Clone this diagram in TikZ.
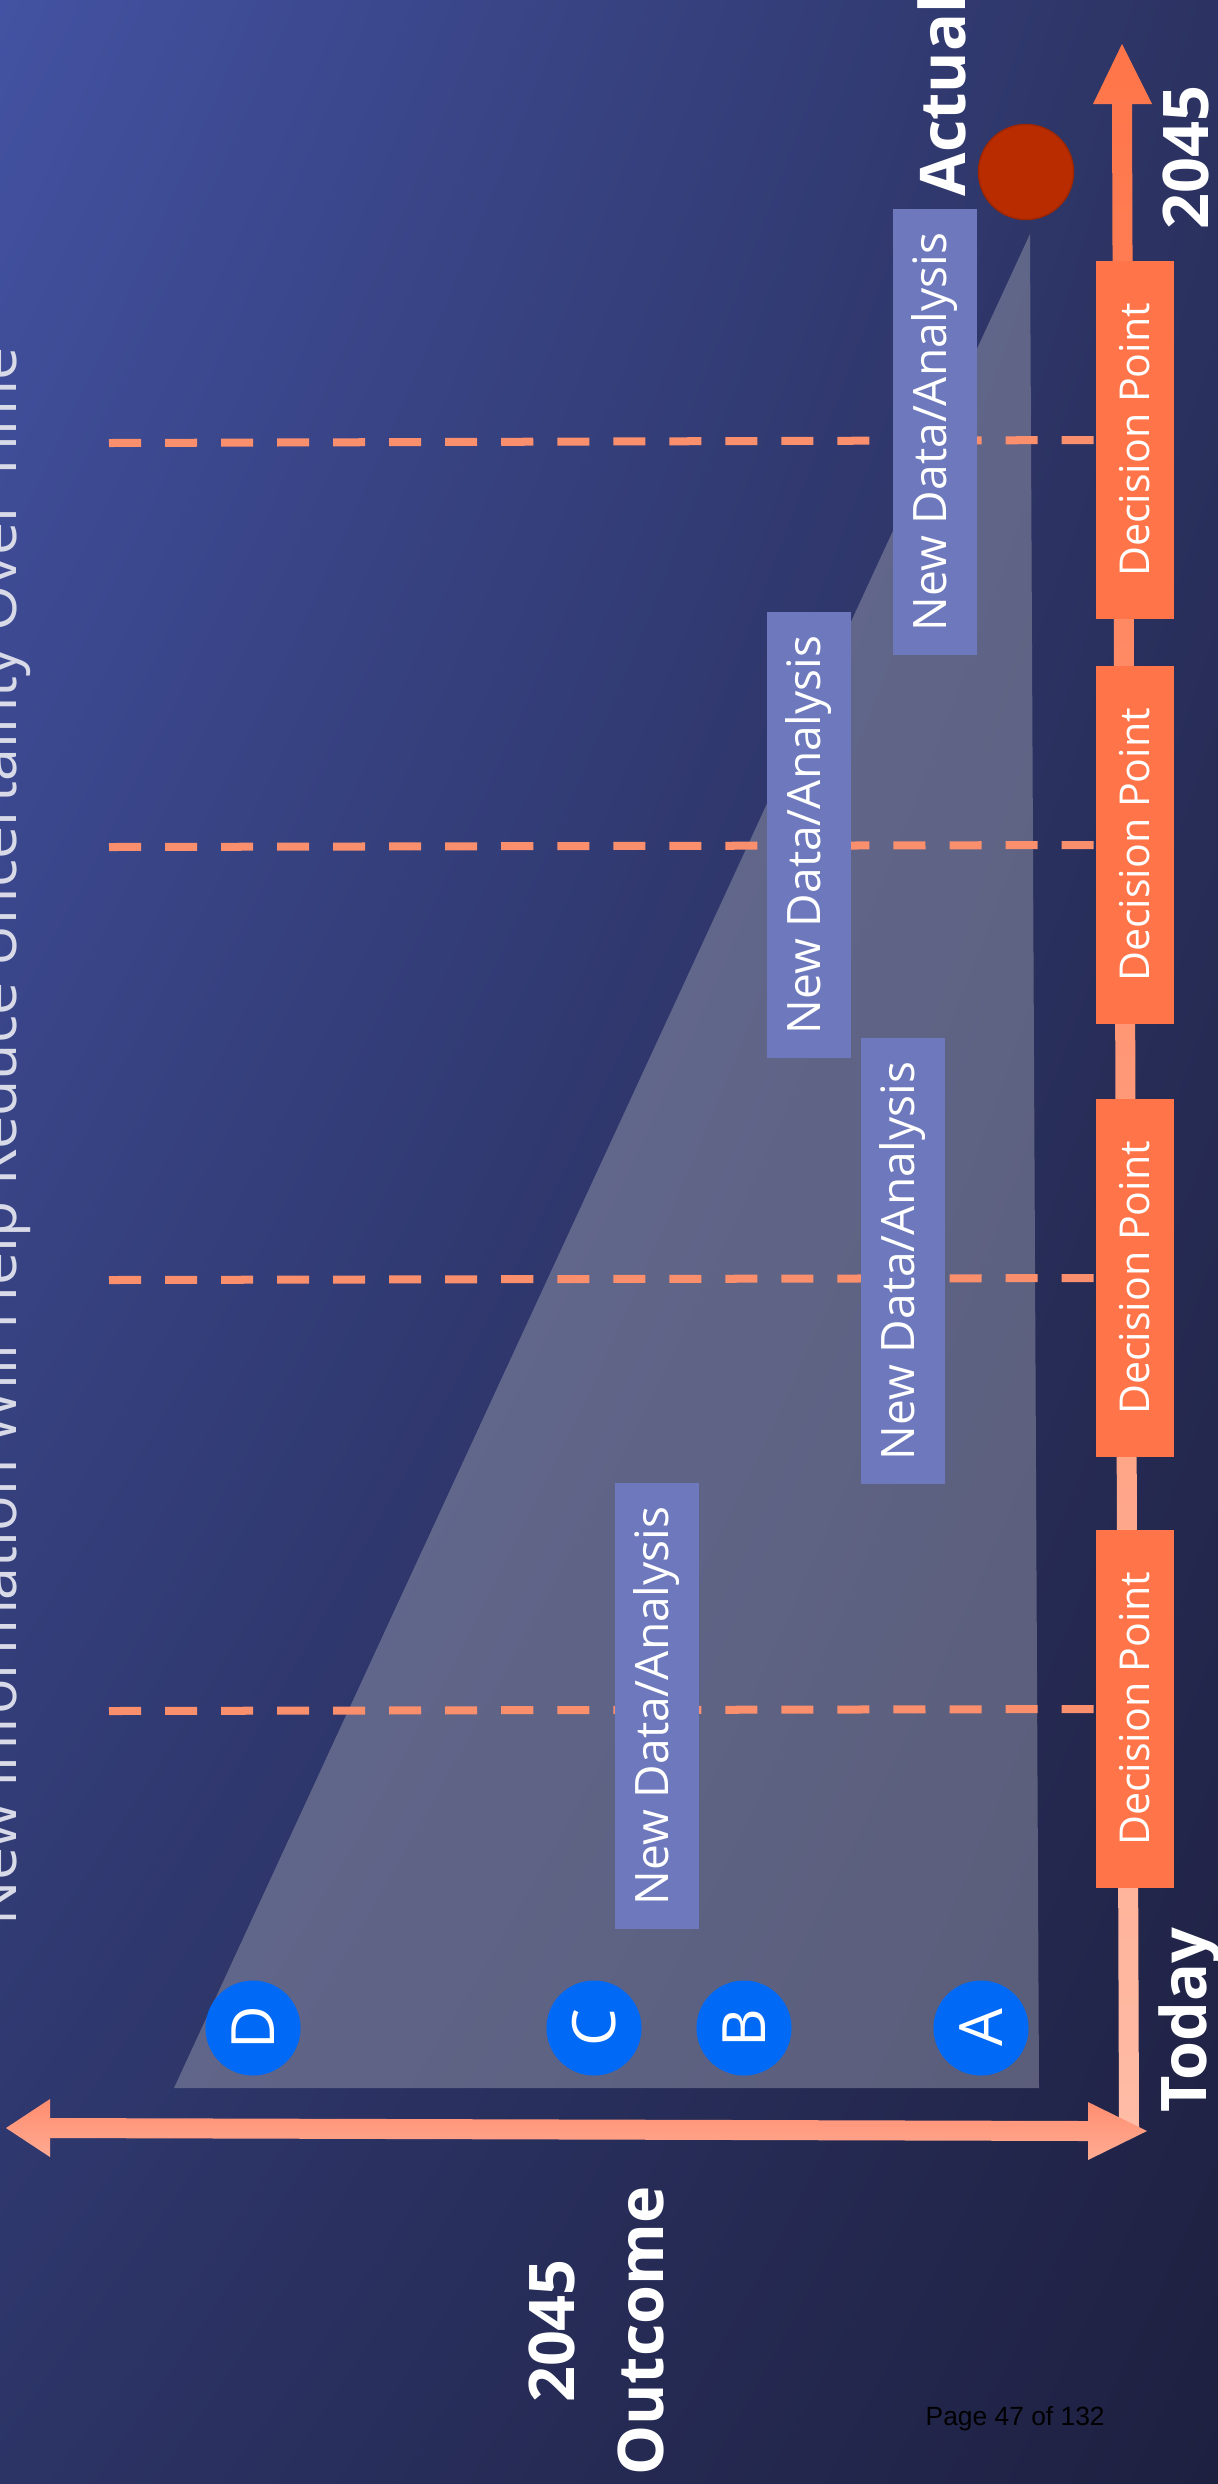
\documentclass[tikz,border=0pt]{standalone}
\usepackage{fontspec}
\setmainfont{Open Sans}
\newfontfamily\pagefont{Liberation Sans}
\usetikzlibrary{positioning,shadings}

\definecolor{bgUL}{HTML}{4352A2}
\definecolor{bgUR}{HTML}{2C3362}
\definecolor{bgLL}{HTML}{2C3466}
\definecolor{bgLR}{HTML}{1E2040}
\definecolor{coral}{HTML}{FF7549}
\definecolor{peach}{HTML}{FFBCA6}
\definecolor{salmon}{HTML}{FA8F6E}
\definecolor{periwinkle}{HTML}{6D78BD}
\definecolor{dotblue}{HTML}{0069F5}
\definecolor{rust}{HTML}{B82C00}
\definecolor{wedge}{HTML}{9A9CAE}

\begin{document}
\begin{tikzpicture}[x=0.01cm, y=-0.01cm,
  dpbox/.style={fill=coral, text=white, rotate=90, inner sep=0pt,
    minimum width=3.58cm, minimum height=0.78cm, font=\fontsize{11.7}{14}\selectfont},
  databox/.style={fill=periwinkle, text=white, rotate=90, inner sep=0pt,
    minimum width=4.45cm, minimum height=0.84cm, font=\fontsize{13.1}{15}\selectfont},
  letter/.style={circle, fill=dotblue, text=white, rotate=90, inner sep=0pt,
    minimum size=0.95cm, font=\fontsize{17}{17}\selectfont},
  dashline/.style={color=salmon, line width=0.08cm, dash pattern=on 0.32cm off 0.24cm},
  biglabel/.style={text=white, rotate=90, inner sep=0pt, font=\fontsize{17.9}{20}\selectfont\bfseries}]
\useasboundingbox (0,0) rectangle (1218,2484);
\shade [upper left=bgUL, upper right=bgUR, lower left=bgLL, lower right=bgLR] (0,0) rectangle (1218,2484);

\node (title) at (16,1926) [rotate=90, anchor=base west, inner sep=0pt, text={rgb,255:red,216;green,218;blue,232},
  font=\fontsize{16.8}{20}\selectfont]{New Information Will Help Reduce Uncertainty Over Time};

% uncertainty wedge
\fill [wedge, fill opacity=0.47] (174,2088) -- (1030,234) -- (1039,2088) -- cycle;

% time axis
\shade [top color=coral, bottom color=peach] (1119,2128) -- (1139,2128) -- (1132,104) -- (1152,104)
  -- (1122,44) -- (1093,104) -- (1112,104) -- cycle;
% outcome axis
\shade [top color={rgb,255:red,255;green,140;blue,110}, bottom color={rgb,255:red,255;green,172;blue,148}]
  (6,2128) -- (50,2099) -- (50,2118) -- (1088,2121) -- (1088,2102) -- (1147,2131) -- (1088,2160)
  -- (1088,2141) -- (50,2138) -- (50,2157) -- cycle;

\node (dp1) at (1135,1709) [dpbox]{Decision Point};
\node (dp2) at (1135,1278) [dpbox]{Decision Point};
\node (dp3) at (1135,845) [dpbox]{Decision Point};
\node (dp4) at (1135,440) [dpbox]{Decision Point};

\coordinate (l1) at (109,1711);
\coordinate (l2) at (109,1280);
\coordinate (l3) at (109,847);
\coordinate (l4) at (109,443);
\draw [dashline] (l1) -- (dp1.north);
\draw [dashline] (l2) -- (dp2.north);
\draw [dashline] (l3) -- (dp3.north);
\draw [dashline] (l4) -- (dp4.north);

\node (nd1) at (657,1706) [databox]{New Data/Analysis};
\node (nd2) at (903,1261) [databox]{New Data/Analysis};
\node (nd3) at (809,835) [databox]{New Data/Analysis};
\node (nd4) at (935,432) [databox]{New Data/Analysis};

\node (D) at (253,2028) [letter]{D};
\node (C) at (594,2028) [letter]{C};
\node (B) at (744,2028) [letter]{B};
\node (A) at (981,2028) [letter]{A};

\node (actualdot) at (1026,172) [circle, fill=rust, draw={rgb,255:red,160;green,38;blue,0}, minimum size=0.95cm]{};

\node (actual) at (965,197) [biglabel, anchor=base west]{Actual};
\node (endyear) at (1208,230) [biglabel, anchor=base west]{2045};
\node (today) at (1206,2113) [biglabel, anchor=base west]{Today};
\node (outyear) at (574,2331) [biglabel, anchor=base]{2045};
\node (outcome) at (663,2331) [biglabel, anchor=base]{Outcome};

\node (page) at (925,2425) [anchor=base west, inner sep=0pt, font=\pagefont\fontsize{7.5}{9}\selectfont]{Page 47 of 132};
\end{tikzpicture}
\end{document}
